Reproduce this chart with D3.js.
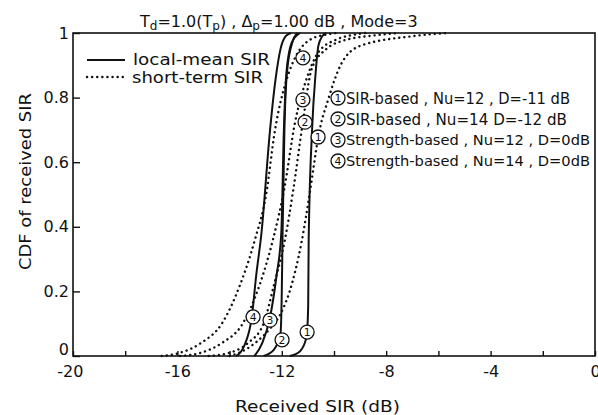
<!DOCTYPE html>
<html>
<head>
<meta charset="utf-8">
<script src="https://cdn.jsdelivr.net/npm/d3@7"></script>
<style>
  html, body { margin: 0; padding: 0; background: #fff; }
  svg { display: block; }
  text { font-family: "DejaVu Sans", "Liberation Sans", sans-serif; fill: #111; }
</style>
</head>
<body>
<svg id="chart" width="598" height="415"></svg>
<script>
// CDF curves of received SIR, [SIR (dB), CDF]
// local-mean SIR (solid)
const localMean1 = [[-11.7,0],[-11.3,0.015],[-11.05,0.06],[-10.99,0.15],[-10.97,0.36],[-10.84,0.7],[-10.7,0.88],[-10.6,0.96],[-10.45,0.99],[-10.3,1]];
const localMean2 = [[-12.7,0],[-12.3,0.02],[-12.05,0.07],[-12.0,0.2],[-11.97,0.38],[-11.9,0.7],[-11.8,0.88],[-11.6,0.97],[-11.4,1]];
const localMean3 = [[-13.05,0],[-12.75,0.04],[-12.45,0.12],[-12.2,0.25],[-12.02,0.38],[-11.92,0.7],[-11.82,0.88],[-11.62,0.97],[-11.3,1]];
const localMean4 = [[-13.75,0],[-13.45,0.03],[-13.15,0.12],[-12.98,0.25],[-12.78,0.38],[-12.45,0.7],[-12.25,0.85],[-12.05,0.95],[-11.85,0.99],[-11.65,1]];
// short-term SIR (dotted)
const shortTerm1 = [[-14.0,0],[-13.5,0.015],[-12.95,0.045],[-12.4,0.09],[-12.05,0.13],[-11.7,0.2],[-11.25,0.35],[-10.9,0.52],[-10.6,0.68],[-10.2,0.8],[-9.75,0.9],[-9.0,0.96],[-7.0,0.99],[-5.6,1]];
const shortTerm2 = [[-14.8,0],[-14.0,0.01],[-13.3,0.04],[-12.7,0.1],[-12.3,0.22],[-11.88,0.36],[-11.55,0.52],[-11.2,0.72],[-10.85,0.89],[-10.3,0.95],[-9.7,0.975],[-8.4,0.993],[-7.5,1]];
const shortTerm3 = [[-15.9,0],[-15.1,0.01],[-14.3,0.04],[-13.5,0.1],[-12.85,0.22],[-12.34,0.36],[-11.9,0.52],[-11.5,0.72],[-11.0,0.87],[-10.6,0.94],[-9.9,0.98],[-9.2,0.995],[-8.8,1]];
const shortTerm4 = [[-16.6,0],[-15.9,0.01],[-15.1,0.04],[-14.3,0.1],[-13.6,0.22],[-13.03,0.36],[-12.6,0.5],[-12.26,0.7],[-11.8,0.86],[-11.45,0.93],[-10.9,0.98],[-10.3,0.995],[-9.9,1]];

const xTickLabels = [-20, -16, -12, -8, -4, 0];
const xMinorTicks = [-18, -14, -10, -6, -2];
const yTickLabels = [0, 0.2, 0.4, 0.6, 0.8, 1];
const yTickText = ["0", "0.2", "0.4", "0.6", "0.8", "1"];

const caseLabels = [
  "SIR-based , Nu=12 , D=-11 dB",
  "SIR-based , Nu=14  D=-12 dB",
  "Strength-based , Nu=12 , D=0dB",
  "Strength-based , Nu=14 , D=0dB"
];
const caseNumbers = ["1", "2", "3", "4"];
// where each curve is tagged: [SIR (dB), CDF]
const localMeanTags = [[-11.03, 0.074], [-11.99, 0.05], [-12.45, 0.111], [-13.1, 0.121]];
const shortTermTags = [[-10.61, 0.678], [-11.11, 0.724], [-11.19, 0.793], [-11.19, 0.923]];

const svg = d3.select("#chart");
const x = d3.scaleLinear().domain([-20, 0]).range([73, 595]);
const y = d3.scaleLinear().domain([0, 1]).range([356, 33]);

// frame
svg.append("rect")
  .attr("x", x(-20)).attr("y", y(1))
  .attr("width", x(0) - x(-20)).attr("height", y(0) - y(1))
  .attr("fill", "none").attr("stroke", "#111").attr("stroke-width", 1.6);

// x axis ticks (inward)
const xAxis = d3.axisBottom(x)
  .tickValues(xTickLabels.concat(xMinorTicks))
  .tickSize(-5)
  .tickPadding(10)
  .tickFormat(d => xTickLabels.includes(d) ? String(d) : "");
const gx = svg.append("g").attr("transform", `translate(0,${y(0)})`).call(xAxis);
gx.select(".domain").remove();
gx.selectAll(".tick line").attr("stroke", "#111").attr("stroke-width", 1.4);
gx.selectAll(".tick text").attr("font-size", 16).attr("fill", "#111")
  .attr("font-family", "DejaVu Sans, sans-serif");
gx.selectAll(".tick").filter(d => d === -20).select("text").attr("dx", "-0.2em");

// y axis ticks (inward)
const yAxis = d3.axisLeft(y)
  .tickValues(yTickLabels)
  .tickSize(-7)
  .tickPadding(4)
  .tickFormat((d, i) => yTickText[i]);
const gy = svg.append("g").attr("transform", `translate(${x(-20)},0)`).call(yAxis);
gy.select(".domain").remove();
gy.selectAll(".tick line").attr("stroke", "#111").attr("stroke-width", 1.4);
gy.selectAll(".tick text").attr("font-size", 16).attr("fill", "#111")
  .attr("font-family", "DejaVu Sans, sans-serif");
gy.selectAll(".tick").filter(d => d === 0).select("text").attr("dy", "-0.1em");

// curves
const line = d3.line().x(d => x(d[0])).y(d => y(d[1])).curve(d3.curveMonotoneX);
const plot = svg.append("g");
[shortTerm1, shortTerm2, shortTerm3, shortTerm4].forEach(s => {
  plot.append("path").datum(s).attr("d", line)
    .attr("fill", "none").attr("stroke", "#111").attr("stroke-width", 2.4)
    .attr("stroke-linecap", "round").attr("stroke-dasharray", "0.1 5");
});
[localMean1, localMean2, localMean3, localMean4].forEach(s => {
  plot.append("path").datum(s).attr("d", line)
    .attr("fill", "none").attr("stroke", "#111").attr("stroke-width", 2);
});

// circled number marker
function circled(g, cx, cy, n, r) {
  g.append("circle").attr("cx", cx).attr("cy", cy).attr("r", r)
    .attr("fill", "#fff").attr("stroke", "#111").attr("stroke-width", 1.3);
  g.append("text").attr("x", cx).attr("y", cy).attr("dy", "0.36em")
    .attr("text-anchor", "middle").attr("font-size", r * 1.55).text(n);
}
const tags = svg.append("g");
localMeanTags.forEach((t, i) => circled(tags, x(t[0]), y(t[1]), caseNumbers[i], 7));
shortTermTags.forEach((t, i) => circled(tags, x(t[0]), y(t[1]), caseNumbers[i], 7));

// case list
const caseWidths = [224, 221, 244, 244];
const caseFont = [15.5, 15.5, 14.5, 14.5];
const list = svg.append("g");
caseLabels.forEach((s, i) => {
  const cy = 98 + i * 21;
  circled(list, 338, cy, caseNumbers[i], 7);
  list.append("text").attr("x", 346).attr("y", cy).attr("dy", "0.36em")
    .attr("font-size", caseFont[i])
    .attr("textLength", caseWidths[i]).attr("lengthAdjust", "spacingAndGlyphs")
    .text(s);
});

// legend
const legend = svg.append("g");
legend.append("line").attr("x1", 87).attr("x2", 125).attr("y1", 60).attr("y2", 60)
  .attr("stroke", "#111").attr("stroke-width", 2);
legend.append("line").attr("x1", 87).attr("x2", 125).attr("y1", 77).attr("y2", 77)
  .attr("stroke", "#111").attr("stroke-width", 2.4).attr("stroke-linecap", "round")
  .attr("stroke-dasharray", "0.1 5");
legend.append("text").attr("x", 133).attr("y", 60).attr("dy", "0.33em").attr("font-size", 15.5)
  .attr("textLength", 137).attr("lengthAdjust", "spacingAndGlyphs").text("local-mean SIR");
legend.append("text").attr("x", 132).attr("y", 78).attr("dy", "0.33em").attr("font-size", 15.5)
  .attr("textLength", 131).attr("lengthAdjust", "spacingAndGlyphs").text("short-term SIR");

// title
const title = svg.append("text").attr("x", 140).attr("y", 27).attr("font-size", 16);
title.append("tspan").text("T");
title.append("tspan").attr("dy", 3).attr("font-size", 12).text("d");
title.append("tspan").attr("dy", -3).text("=1.0(T");
title.append("tspan").attr("dy", 3).attr("font-size", 12).text("p");
title.append("tspan").attr("dy", -3).text(") , \u0394");
title.append("tspan").attr("dy", 3).attr("font-size", 12).text("p");
title.append("tspan").attr("dy", -3).text("=1.00 dB , Mode=3");

// axis titles
svg.append("text").attr("x", 235).attr("y", 412)
  .attr("font-size", 16).attr("textLength", 165).attr("lengthAdjust", "spacingAndGlyphs")
  .text("Received SIR (dB)");
svg.append("text").attr("transform", "translate(31,270) rotate(-90)")
  .attr("font-size", 16).attr("textLength", 177).attr("lengthAdjust", "spacingAndGlyphs")
  .text("CDF of received SIR");
</script>
</body>
</html>
